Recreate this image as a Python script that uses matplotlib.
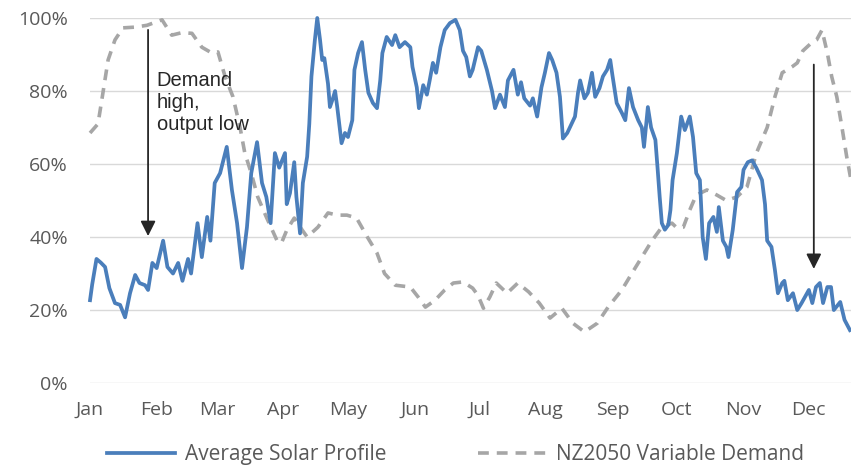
import numpy as np
import matplotlib.pyplot as plt
from matplotlib.ticker import PercentFormatter

# Day-of-year positions and values (%)
solar_day = [0, 1, 3, 5, 7, 9, 11.6, 14, 16.3, 18.6, 21, 23, 25.6, 27, 29, 31, 34, 36, 38.6, 41,
             43, 45.6, 47, 50, 52, 54.5, 56, 58, 60.5, 63.6, 66, 68.4, 70.7, 73, 75, 77.7, 80, 82,
             84, 86, 88, 90.7, 91.5, 93, 95, 96, 97.7, 99, 101, 102, 103, 104.6, 105.7, 107, 108,
             109, 110.7, 111.6, 113, 114, 115, 117, 118.6, 120, 122, 123, 124.7, 126.5, 128, 129.5,
             131.6, 133.5, 135, 136, 138, 140.5, 142, 144, 146.5, 149, 150, 152, 153, 155, 156.7,
             158, 159.5, 161, 163, 165, 167.4, 170, 172, 173.5, 175, 176.7, 178, 180.5, 182, 184.6,
             187, 188.4, 190.7, 193, 194.4, 197, 199, 200.5, 202, 204.7, 206, 208, 210, 211.6,
             213.5, 215, 217, 218.6, 220, 222, 224, 225.6, 227, 228, 230, 231.6, 233.5, 235, 237,
             238.6, 240.5, 242, 243, 245, 247.4, 249, 250.7, 252.6, 255, 256.7, 257.7, 259.5, 261,
             263, 264, 265, 266, 267.4, 269, 270, 271, 273, 275, 276.7, 279, 280.5, 282, 283.7,
             285, 286.5, 288, 290, 291.6, 292.5, 294.4, 296, 297, 299, 301, 303, 304, 306, 308,
             310, 312.6, 314, 315, 317, 318.6, 320, 322, 323, 324.6, 327, 329, 331, 332.6, 334.4,
             336, 337.7, 339.5, 341, 343, 344.7, 346, 349, 351, 353.5]
solar_val = [22.7, 27, 34, 33, 31.8, 26, 21.9, 21.4, 18, 24.6, 29.6, 27.4, 26.8, 25.5, 32.9, 31.5,
             39, 31.8, 30, 32.9, 28, 34, 30, 43.8, 34.5, 45.5, 39, 54.8, 57.5, 64.7, 52.9, 43.8,
             31.5, 42.7, 57.5, 66, 54.8, 51, 43.8, 63, 59, 63, 49, 52, 60.5, 51, 41, 54.8, 62, 71,
             84, 94, 100, 94, 88.5, 89, 82, 75.6, 78, 80, 75.6, 65.7, 68.5, 67.4, 72, 85.8, 90.4,
             93.4, 85.8, 79.5, 76.7, 75.3, 82.9, 90.4, 94.8, 92.6, 95.3, 92, 93.4, 92, 86.6, 81,
             75.3, 81.6, 79, 82.9, 87.7, 85, 92, 96.7, 98.6, 99.5, 96.7, 91, 89.3, 84, 85.8, 92,
             91, 85.8, 80, 75.3, 79, 75.6, 82.9, 85.8, 79, 82.4, 78, 76, 78, 73, 81, 85, 90.4,
             88.5, 85, 78.4, 67, 68.5, 71, 73, 79.5, 82.9, 78, 79.5, 85, 78.4, 80.8, 84, 85.8,
             88.5, 84.4, 76.7, 74, 72, 80.8, 75.6, 72, 70, 64.7, 75.6, 70, 66.6, 59, 51, 43.8, 42,
             43.3, 47.4, 55.6, 63, 73, 69.3, 73, 67.4, 57.5, 55.6, 40, 34, 43.8, 45.5, 41.4, 48.2,
             39, 37.3, 34.5, 42, 52.3, 53.7, 58.4, 60.5, 61, 58.9, 55.6, 49, 39, 37.3, 31, 24.6,
             27.4, 28, 22.7, 24.6, 20, 21.9, 23.6, 25.5, 21.9, 26.3, 27.4, 21.9, 26.3, 26.3, 20,
             22.2, 17.3, 14.5]

demand_day = [0, 3.7, 6, 8.4, 11.6, 15.3, 21, 26.5, 33.5, 38, 42.8, 47.4, 52, 56.7, 59.5, 62.8,
              66.5, 69.8, 72, 75, 78, 82, 87, 89, 91.6, 95, 98.6, 101, 106, 110.7, 115, 119.5,
              124, 129, 133.5, 137, 142, 149, 152.6, 156, 160.5, 165, 169, 173.5, 178, 180.5,
              183, 186, 189, 194, 199, 204, 209, 214, 219.5, 224.6, 230, 236, 241, 247.4, 252,
              256.7, 261.4, 266, 270.7, 273, 276, 279, 282, 287, 291.6, 296, 301, 305.6, 310,
              315, 318.6, 322, 326.5, 329, 331.6, 336, 338, 340.5, 343, 345, 347.4, 350, 352, 354]
demand_val = [68.5, 71, 79.5, 88.5, 94, 97.3, 97.5, 98, 99.5, 95.3, 96, 95.8, 92, 90.4, 90.7, 84,
              78.4, 70, 63, 57.5, 51, 45.5, 39, 38.3, 42, 45.2, 42, 40, 42.7, 46.6, 46, 46, 45.2,
              40, 35.6, 30, 26.8, 26.3, 23.6, 20.8, 22.7, 25.5, 27.4, 27.7, 26, 24, 20.5, 23.6,
              27.4, 24.6, 27.4, 25, 21.9, 17.8, 20.5, 16.4, 14, 16.4, 20.8, 25.5, 30, 34.5, 39,
              42.7, 43.8, 42.5, 42.7, 47.4, 51.5, 52.9, 51.5, 50, 51, 53.7, 63, 70, 78.4, 85,
              86.6, 87.7, 91, 93.4, 94, 96.7, 90.4, 84, 78.4, 69.3, 62, 55.6]

month_start = [0, 31, 59, 90, 120, 151, 181, 212, 243, 273, 304, 334]
month_names = ['Jan', 'Feb', 'Mar', 'Apr', 'May', 'Jun', 'Jul', 'Aug', 'Sep', 'Oct', 'Nov', 'Dec']

fig = plt.figure(figsize=(8.51, 4.70), dpi=100)
ax = fig.add_axes([0.1058, 0.185, 0.8942, 0.7767])

ax.plot(solar_day, solar_val, color='#4a7ebb', lw=2.7, label='Average Solar Profile',
        solid_joinstyle='round', clip_on=False, zorder=3)
ax.plot(demand_day, demand_val, color='#a6a6a6', lw=2.6, dashes=(3, 2.2),
        label='NZ2050 Variable Demand', clip_on=False, zorder=2)

ax.set_xlim(0, 354)
ax.set_ylim(0, 100)
ax.set_yticks(np.arange(0, 101, 20))
ax.yaxis.set_major_formatter(PercentFormatter(decimals=0))
ax.set_xticks(month_start)
ax.set_xticklabels(month_names)
ax.grid(axis='y', color='#d9d9d9', lw=1)
ax.set_axisbelow(True)
for s in ax.spines.values():
    s.set_visible(False)
ax.tick_params(length=0, labelsize=14, colors='#595959')
ax.tick_params(axis='y', pad=16)
ax.tick_params(axis='x', pad=13)
for lab in ax.get_xticklabels() + ax.get_yticklabels():
    lab.set_fontfamily('Open Sans')

# annotations
arrow = dict(arrowstyle='-|>,head_width=0.45,head_length=0.9', color='#262626', lw=1.3)
ax.annotate('', xy=(27, 39.5), xytext=(27, 97.5), arrowprops=arrow)
ax.annotate('', xy=(336.7, 30.5), xytext=(336.7, 88), arrowprops=arrow)
ax.text(31, 85.5, 'Demand\nhigh,\noutput low', fontsize=14.5, color='#262626',
        family='Liberation Sans', va='top', linespacing=1.2)

leg = fig.legend(loc='lower center', bbox_to_anchor=(0.535, -0.03), ncol=2, frameon=False,
                 handlelength=3.3, columnspacing=4.4, handletextpad=0.45,
                 prop={'family': 'Open Sans', 'size': 15})
for t in leg.get_texts():
    t.set_color('#595959')

fig.savefig('out.png', dpi=100)
